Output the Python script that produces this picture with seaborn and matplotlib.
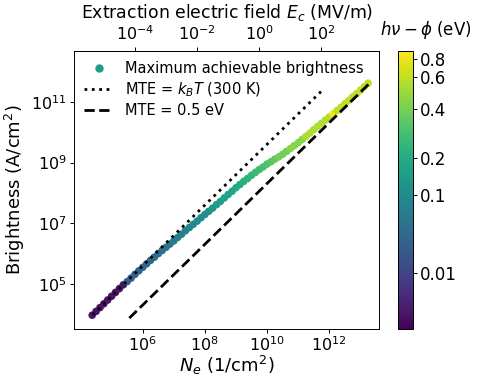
import numpy as np
import matplotlib
matplotlib.use('Agg')
import matplotlib.pyplot as plt
import matplotlib.colors as mcolors
import matplotlib.ticker as mticker
from matplotlib.lines import Line2D
import seaborn as sns

sns.set_theme(style='ticks', rc={'axes.edgecolor': 'black', 'text.color': 'black',
                                 'axes.labelcolor': 'black', 'xtick.color': 'black',
                                 'ytick.color': 'black', 'axes.linewidth': 0.7,
                                 'xtick.major.size': 2.8, 'ytick.major.size': 2.8,
                                 'xtick.major.width': 0.7, 'ytick.major.width': 0.7,
                                 'xtick.major.pad': 2.5, 'ytick.major.pad': 2.5,
                                 'axes.labelpad': 2.9})
plt.rcParams['font.family'] = ['DejaVu Sans']
plt.rcParams['mathtext.fontset'] = 'dejavusans'

# 数据
log_ne = [4.375, 4.5, 4.625, 4.75, 4.875, 5.0, 5.125, 5.25, 5.375,
          5.5, 5.625, 5.75, 5.875, 6.0, 6.125, 6.25, 6.375, 6.5, 6.625, 6.75, 6.875,
          7.0, 7.125, 7.25, 7.375, 7.5, 7.625, 7.75, 7.875, 8.0, 8.125, 8.25, 8.375,
          8.5, 8.625, 8.75, 8.875, 9.0, 9.125, 9.25, 9.375, 9.5, 9.625, 9.75, 9.875,
          10.0, 10.125, 10.25, 10.375, 10.5, 10.625, 10.75, 10.875, 11.0, 11.125,
          11.25, 11.375, 11.5, 11.625, 11.75, 11.875, 12.0, 12.125, 12.25, 12.375,
          12.5, 12.625, 12.75, 12.875, 13.0, 13.125, 13.25]
log_brightness = [3.975, 4.1, 4.225, 4.35, 4.475, 4.6, 4.725, 4.85, 4.975,
                  5.08, 5.195, 5.32, 5.435, 5.55, 5.665, 5.78, 5.885, 6.0, 6.105, 6.21, 6.315,
                  6.42, 6.535, 6.64, 6.755, 6.86, 6.965, 7.07, 7.185, 7.29, 7.395, 7.5, 7.615,
                  7.72, 7.835, 7.95, 8.055, 8.17, 8.275, 8.38, 8.475, 8.58, 8.675, 8.77, 8.855,
                  8.95, 9.025, 9.11, 9.185, 9.27, 9.365, 9.46, 9.555, 9.65, 9.755,
                  9.86, 9.965, 10.08, 10.185, 10.29, 10.395, 10.5, 10.605, 10.71, 10.815,
                  10.93, 11.045, 11.16, 11.265, 11.38, 11.495, 11.61]
excess_energy = [0.003, 0.003, 0.003, 0.003, 0.003, 0.003, 0.003, 0.003, 0.003,
                 0.022, 0.023, 0.024, 0.025, 0.026, 0.028, 0.030, 0.033, 0.036, 0.040, 0.043, 0.047,
                 0.051, 0.057, 0.063, 0.069, 0.076, 0.084, 0.092, 0.100, 0.109, 0.118, 0.128, 0.139,
                 0.151, 0.160, 0.168, 0.177, 0.186, 0.197, 0.210, 0.225, 0.240, 0.255, 0.270, 0.287,
                 0.304, 0.323, 0.343, 0.385, 0.385, 0.385, 0.444, 0.444, 0.444, 0.444,
                 0.546, 0.546, 0.546, 0.546, 0.550, 0.550, 0.550, 0.850, 0.585, 0.585,
                 0.585, 0.585, 0.585, 0.585, 0.585, 0.585, 0.585]

# MTE = kBT 和 MTE = 0.5 eV 参考线端点
thermal_ne = [10**4.39, 10**11.8]
thermal_b = [10**3.99, 10**11.40]
hot_ne = [10**5.57, 10**13.3]
hot_b = [10**3.88, 10**11.61]

cbar_ticks = [0.01, 0.1, 0.2, 0.4, 0.6, 0.8]
cbar_labels = ['0.01', '0.1', '0.2', '0.4', '0.6', '0.8']
# 色标上各刻度的相对位置
norm_vals = [0.002, 0.01, 0.1, 0.2, 0.4, 0.6, 0.8, 0.9]
norm_pos = [0.0, 0.202, 0.483, 0.613, 0.790, 0.907, 0.970, 1.0]

log_norm_vals = np.log10(norm_vals)


def fwd(v):
    v = np.clip(np.asarray(v, dtype=float), 1e-6, None)
    return np.interp(np.log10(v), log_norm_vals, norm_pos)


def inv(p):
    return 10 ** np.interp(np.asarray(p, dtype=float), norm_pos, log_norm_vals)


norm = mcolors.FuncNorm((fwd, inv), vmin=0.002, vmax=0.9)
cmap = plt.get_cmap('viridis')

fig = plt.figure(figsize=(4.79, 3.82), dpi=100)
ax = fig.add_axes([0.1545, 0.1387, 0.6374, 0.7286])
cax = fig.add_axes([0.8315, 0.1387, 0.0301, 0.7286])

sns.scatterplot(x=10 ** np.array(log_ne), y=10 ** np.array(log_brightness),
                hue=excess_energy, palette='viridis', hue_norm=norm,
                s=30, linewidth=0, legend=False, ax=ax, zorder=2)
ax.plot(thermal_ne, thermal_b, color='black', ls=':', lw=2, zorder=3)
ax.plot(hot_ne, hot_b, color='black', ls='--', lw=2, zorder=3)

ax.set_xscale('log')
ax.set_yscale('log')
ax.set_xlim(10**3.79, 10**13.61)
ax.set_ylim(10**3.52, 10**12.68)
ax.set_xticks([1e6, 1e8, 1e10, 1e12])
ax.set_yticks([1e5, 1e7, 1e9, 1e11])
ax.xaxis.set_minor_locator(mticker.NullLocator())
ax.yaxis.set_minor_locator(mticker.NullLocator())
ax.tick_params(labelsize=11.5)
ax.tick_params(axis='x', pad=1.5)
ax.set_xlabel('$N_e$ (1/cm$^2$)', fontsize=13, labelpad=0.5)
ax.set_ylabel('Brightness (A/cm$^2$)', fontsize=13)

# 顶部坐标：提取电场
secax = ax.secondary_xaxis('top', functions=(lambda n: n * 1.81e-10, lambda e: e / 1.81e-10))
secax.set_xscale('log')
secax.set_xticks([1e-4, 1e-2, 1e0, 1e2])
secax.xaxis.set_minor_locator(mticker.NullLocator())
secax.tick_params(labelsize=11.5, pad=3.0)
secax.set_xlabel('Extraction electric field $E_c$ (MV/m)', fontsize=12.4, labelpad=4.0)

handles = [Line2D([], [], marker='o', ls='', color=cmap(0.55), markersize=5),
           Line2D([], [], color='black', ls=':', lw=2),
           Line2D([], [], color='black', ls='--', lw=2)]
labels = ['Maximum achievable brightness', 'MTE = $k_BT$ (300 K)', 'MTE = 0.5 eV']
ax.legend(handles, labels, loc='upper left', fontsize=10.5, frameon=False,
          labelspacing=0.3, borderaxespad=0.3)

cb = fig.colorbar(plt.cm.ScalarMappable(norm=norm, cmap=cmap), cax=cax)
cb.set_ticks(cbar_ticks)
cb.set_ticklabels(cbar_labels)
cb.ax.yaxis.set_minor_locator(mticker.NullLocator())
cb.ax.tick_params(labelsize=12)
cb.outline.set_linewidth(0.7)
cax.text(1.9, 1.035, r'$h\nu - \phi$ (eV)', transform=cax.transAxes,
         ha='center', va='bottom', fontsize=12)

fig.savefig('out.png', dpi=100)
